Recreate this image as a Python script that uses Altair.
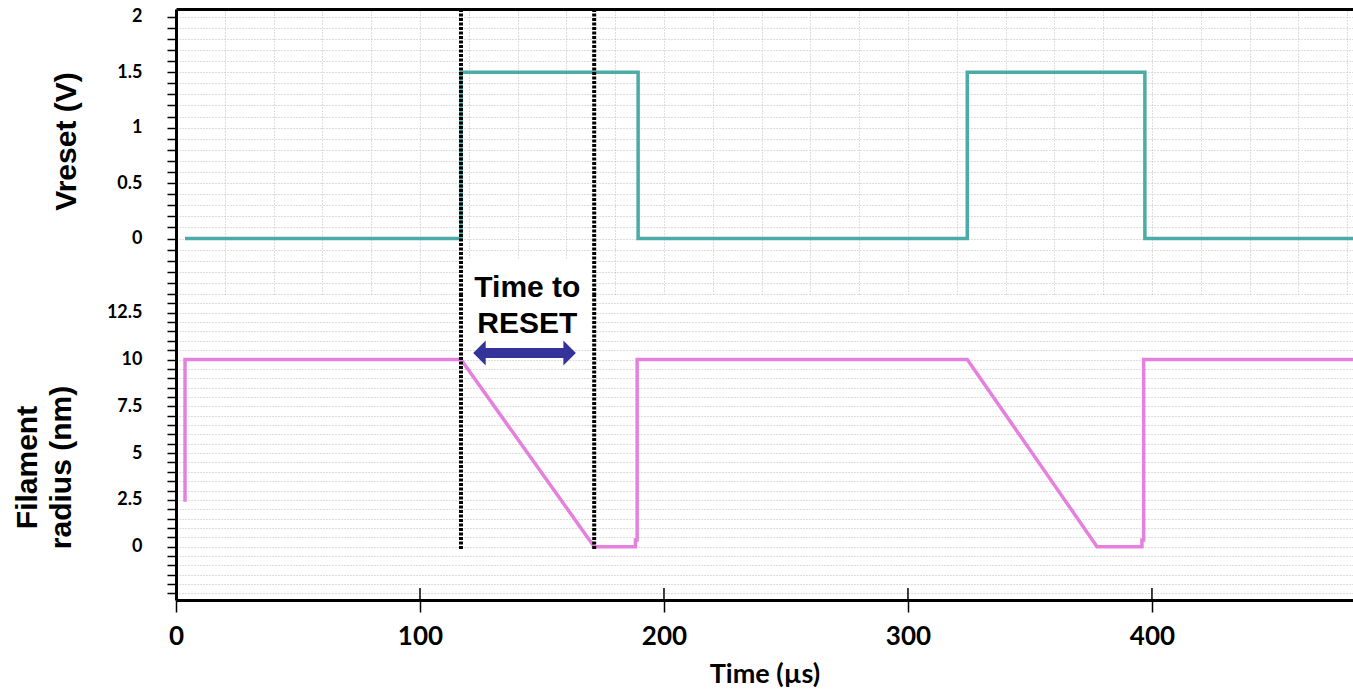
import altair as alt
import pandas as pd

# ---------------- data ----------------
# Vreset waveform: time (µs) and voltage (V)
v_time = [3.7, 116.8, 116.8, 189.4, 189.4, 324.3, 324.3, 397.1, 397.1, 482.4]
v_val = [0, 0, 1.5, 1.5, 0, 0, 1.5, 1.5, 0, 0]

# Filament radius: time (µs) and radius (nm)
r_time = [3.7, 3.7, 116.8, 171.4, 188.3, 188.3, 189.0, 189.0, 324.3, 377.5,
          395.9, 395.9, 396.6, 396.6, 482.4]
r_val = [2.4, 10, 10, 0, 0, 0.35, 0.35, 10, 10, 0, 0, 0.35, 0.35, 10, 10]

# dotted marker lines (µs) and "Time to RESET" arrow
marker_times = [116.8, 171.4]
arrow_start, arrow_end, arrow_level = 121.8, 163.9, 10.35
annot_text = ["Time to\nRESET"]
annot_time, annot_level = 144.0, 13.35

# axis tick values
x_ticks = [0, 100, 200, 300, 400]
x_grid = [0, 20, 40, 60, 80, 100, 120, 140, 160, 180, 200, 220, 240, 260, 280,
          300, 320, 340, 360, 380, 400, 420, 440, 460, 480]
v_ticks = [-0.4, -0.3, -0.2, -0.1, 0, 0.1, 0.2, 0.3, 0.4, 0.5, 0.6, 0.7, 0.8,
           0.9, 1.0, 1.1, 1.2, 1.3, 1.4, 1.5, 1.6, 1.7, 1.8, 1.9, 2.0]
r_ticks = [-2.5, -2, -1.5, -1, -0.5, 0, 0.5, 1, 1.5, 2, 2.5, 3, 3.5, 4, 4.5, 5,
           5.5, 6, 6.5, 7, 7.5, 8, 8.5, 9, 9.5, 10, 10.5, 11, 11.5, 12, 12.5,
           13, 13.5]

x_domain = [0, 482.4]
v_domain = [-0.5, 2.07]
r_domain = [-2.85, 13.5]

W, H, SPLIT = 1177, 591, 285

TEAL = "#4BACA7"
PINK = "#E680DF"
NAVY = "#333399"
GRID = "#bdbdbd"


def xs():
    return alt.Scale(domain=x_domain, nice=False, zero=False)


def vs():
    return alt.Scale(domain=v_domain, range=[SPLIT, 0], nice=False, zero=False)


def rs():
    return alt.Scale(domain=r_domain, range=[H, SPLIT], nice=False, zero=False)


df_v = pd.DataFrame({"t": v_time, "v": v_val, "i": list(range(len(v_time)))})
df_r = pd.DataFrame({"t": r_time, "r": r_val, "i": list(range(len(r_time)))})
df_mk_top = pd.DataFrame({"t": marker_times, "y1": [v_domain[1]] * 2, "y2": [v_domain[0]] * 2})
df_mk_bot = pd.DataFrame({"t": marker_times, "y1": [r_domain[1]] * 2, "y2": [-0.2] * 2})

common_y = dict(
    orient="left", grid=True, gridColor=GRID, gridDash=[1, 2], gridWidth=1,
    tickSize=9, tickColor="black", tickWidth=1.5,
    domainColor="black", domainWidth=3,
    labelFont="Lato", labelFontSize=18, labelFontWeight="bold", labelColor="black",
    labelPadding=25, labelOverlap=False, labelBaseline="middle",
    titleFont="Liberation Sans", titleFontSize=30, titleFontWeight="bold",
    titleColor="black", titleAngle=270, titleAlign="center", titleBaseline="alphabetic",
)

v_axis = alt.Axis(
    values=v_ticks,
    labelExpr="datum.value >= 0 && abs(datum.value*2 - round(datum.value*2)) < 0.01 ? format(datum.value, '~g') : ''",
    title="Vreset (V)", titleX=-101, titleY=132, **common_y)

r_axis = alt.Axis(
    values=r_ticks,
    labelExpr="datum.value >= 0 && datum.value <= 12.5 && abs(datum.value/2.5 - round(datum.value/2.5)) < 0.01 ? format(datum.value, '~g') : ''",
    title=["Filament", "radius (nm)"], titleX=-140, titleY=458, titleLineHeight=34,
    **common_y)

top_x_axis = alt.Axis(
    orient="top", values=x_grid, grid=True, gridColor=GRID, gridDash=[1, 2], gridWidth=1,
    ticks=False, labels=False, domain=True, domainColor="black", domainWidth=3, title="")

bot_x_axis = alt.Axis(
    orient="bottom", values=x_ticks, grid=False,
    tickSize=12, tickColor="black", tickWidth=1.5,
    domainColor="black", domainWidth=3,
    labelFont="Lato", labelFontSize=26, labelFontWeight="bold", labelColor="black",
    labelPadding=11, labelFlush=False, labelOverlap=False,
    title="Time (µs)", titleFont="Lato", titleFontSize=27, titleFontWeight="bold",
    titleColor="black", titleY=82, titleBaseline="alphabetic")

DOTS = dict(color="black", strokeWidth=4, strokeDash=[3, 1.5], strokeCap="butt")

# ---------------- top panel (Vreset) ----------------
v_line = alt.Chart(df_v).mark_line(color=TEAL, strokeWidth=3.5, clip=True).encode(
    x=alt.X("t:Q", scale=xs(), axis=top_x_axis),
    y=alt.Y("v:Q", scale=vs(), axis=v_axis),
    order="i:Q",
)
mk_top = alt.Chart(df_mk_top).mark_rule(**DOTS).encode(
    x=alt.X("t:Q", scale=xs(), axis=None),
    y=alt.Y("y1:Q", scale=vs(), axis=None),
    y2="y2:Q",
)

# ---------------- bottom panel (radius) ----------------
r_line = alt.Chart(df_r).mark_line(color=PINK, strokeWidth=3.5, clip=True).encode(
    x=alt.X("t:Q", scale=xs(), axis=bot_x_axis),
    y=alt.Y("r:Q", scale=rs(), axis=r_axis),
    order="i:Q",
)
mk_bot = alt.Chart(df_mk_bot).mark_rule(**DOTS).encode(
    x=alt.X("t:Q", scale=xs(), axis=None),
    y=alt.Y("y1:Q", scale=rs(), axis=None),
    y2="y2:Q",
)

box_df = pd.DataFrame({"x1": [marker_times[0] + 1.2], "x2": [marker_times[1] - 1.2],
                       "y1": [15.4], "y2": [10.95]})
white_box = alt.Chart(box_df).mark_rect(color="white").encode(
    x=alt.X("x1:Q", scale=xs(), axis=None), x2="x2:Q",
    y=alt.Y("y1:Q", scale=rs(), axis=None), y2="y2:Q",
)

annot = alt.Chart(pd.DataFrame({"t": [annot_time], "r": [annot_level], "txt": annot_text})).mark_text(
    align="center", baseline="alphabetic", font="Liberation Sans", fontSize=30,
    fontWeight="bold", color="black", lineBreak="\n", lineHeight=36,
).encode(
    x=alt.X("t:Q", scale=xs(), axis=None),
    y=alt.Y("r:Q", scale=rs(), axis=None),
    text="txt:N",
)

shaft_df = pd.DataFrame({"a": [arrow_start + 3], "b": [arrow_end - 3], "r": [arrow_level]})
shaft = alt.Chart(shaft_df).mark_rule(color=NAVY, strokeWidth=10).encode(
    x=alt.X("a:Q", scale=xs(), axis=None), x2="b:Q",
    y=alt.Y("r:Q", scale=rs(), axis=None),
)
head_l = alt.Chart(pd.DataFrame({"t": [arrow_start], "r": [arrow_level]})).mark_point(
    shape="M0,0L1,-1L1,1Z", filled=True, color=NAVY, opacity=1, size=625, strokeWidth=0
).encode(
    x=alt.X("t:Q", scale=xs(), axis=None),
    y=alt.Y("r:Q", scale=rs(), axis=None),
)
head_r = alt.Chart(pd.DataFrame({"t": [arrow_end], "r": [arrow_level]})).mark_point(
    shape="M0,0L-1,-1L-1,1Z", filled=True, color=NAVY, opacity=1, size=625, strokeWidth=0
).encode(
    x=alt.X("t:Q", scale=xs(), axis=None),
    y=alt.Y("r:Q", scale=rs(), axis=None),
)

inner_df = pd.DataFrame({"t": x_ticks[1:], "y1": [r_domain[0]] * 4, "y2": [r_domain[0] + 0.64] * 4})
inner_ticks = alt.Chart(inner_df).mark_rule(color="black", strokeWidth=1.5).encode(
    x=alt.X("t:Q", scale=xs(), axis=None),
    y=alt.Y("y1:Q", scale=rs(), axis=None), y2="y2:Q",
)

chart = alt.layer(
    v_line, r_line, white_box, mk_top, mk_bot, annot, shaft, head_l, head_r, inner_ticks
).resolve_scale(y="independent").resolve_axis(
    x="independent", y="independent"
).properties(
    width=W, height=H,
    autosize=alt.AutoSizeParams(type="none"),
    padding={"left": 176, "top": 9, "right": 0, "bottom": 91},
    background="white",
).configure_view(strokeWidth=0)

chart.save("out.html", embed_options={"renderer": "svg", "actions": False})
